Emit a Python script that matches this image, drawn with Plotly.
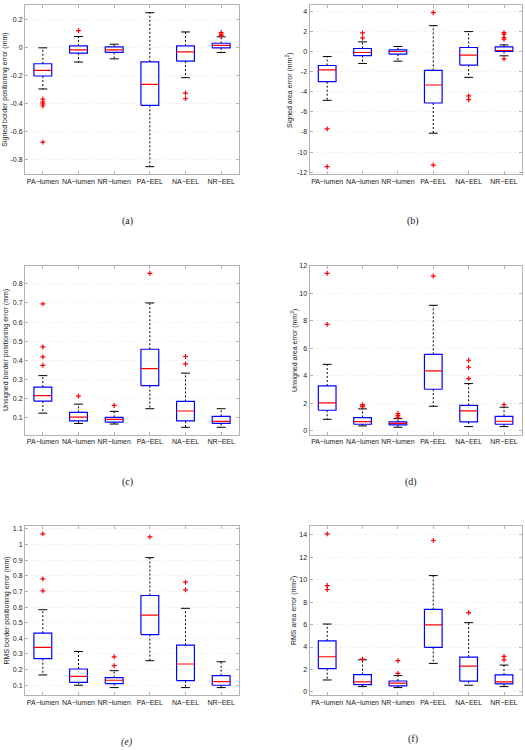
import numpy as np
import plotly.graph_objects as go

categories = ["PA\u2212lumen", "NA\u2212lumen", "NR\u2212lumen", "PA\u2212EEL", "NA\u2212EEL", "NR\u2212EEL"]

# (a) Signed border positioning error (mm)
a_lo = [-0.295, -0.102, -0.079, -0.852, -0.214, -0.033]
a_q1 = [-0.202, -0.038, -0.033, -0.412, -0.095, 0.000]
a_med = [-0.162, -0.014, -0.014, -0.262, -0.029, 0.017]
a_q3 = [-0.114, 0.014, 0.007, -0.100, 0.014, 0.033]
a_hi = [0.000, 0.081, 0.026, 0.252, 0.114, 0.079]
a_out = [[-0.367, -0.388, -0.402, -0.417, -0.676], [0.124], [], [], [-0.324, -0.364], [0.088, 0.098, 0.110]]
a_ticks = [-0.8, -0.6, -0.4, -0.2, 0, 0.2]

# (b) Signed area error (mm^2)
b_lo = [-4.85, -1.19, -0.96, -8.12, -2.57, -0.43]
b_q1 = [-3.00, -0.40, -0.26, -5.12, -1.35, 0.00]
b_med = [-1.82, -0.10, 0.00, -3.33, -0.36, 0.10]
b_q3 = [-1.39, 0.30, 0.17, -1.88, 0.40, 0.46]
b_hi = [-0.50, 0.96, 0.50, 2.57, 1.98, 0.66]
b_out = [[-7.69, -11.45], [1.35, 1.85], [], [3.86, -11.29], [-4.42, -4.79], [1.22, 1.39, 1.72, 1.88, -0.73]]
b_ticks = [-12, -10, -8, -6, -4, -2, 0, 2, 4]

# (c) Unsigned border positioning error (mm)
c_lo = [0.124, 0.070, 0.067, 0.147, 0.050, 0.050]
c_q1 = [0.187, 0.083, 0.077, 0.268, 0.083, 0.070]
c_med = [0.216, 0.103, 0.091, 0.357, 0.135, 0.081]
c_q3 = [0.260, 0.128, 0.102, 0.458, 0.185, 0.107]
c_hi = [0.320, 0.171, 0.133, 0.700, 0.333, 0.147]
c_out = [[0.374, 0.418, 0.470, 0.695], [0.213], [0.164], [0.855], [0.381, 0.420], []]
c_ticks = [0.1, 0.2, 0.3, 0.4, 0.5, 0.6, 0.7, 0.8]

# (d) Unsigned area error (mm^2)
d_lo = [0.82, 0.34, 0.24, 1.77, 0.29, 0.29]
d_q1 = [1.48, 0.46, 0.41, 3.01, 0.63, 0.46]
d_med = [2.01, 0.65, 0.53, 4.34, 1.43, 0.68]
d_q3 = [3.25, 0.95, 0.63, 5.55, 1.84, 1.04]
d_hi = [4.82, 1.58, 0.87, 9.12, 3.42, 1.70]
d_out = [[7.73, 11.45], [1.75, 1.79, 1.89], [0.97, 1.09, 1.24], [11.25], [3.78, 4.61, 5.12], [1.89]]
d_ticks = [0, 2, 4, 6, 8, 10, 12]

# (e) RMS border positioning error (mm)
e_lo = [0.166, 0.100, 0.085, 0.257, 0.085, 0.085]
e_q1 = [0.270, 0.119, 0.111, 0.424, 0.130, 0.100]
e_med = [0.342, 0.157, 0.132, 0.549, 0.236, 0.123]
e_q3 = [0.433, 0.204, 0.149, 0.674, 0.356, 0.161]
e_hi = [0.583, 0.316, 0.193, 0.916, 0.592, 0.250]
e_out = [[0.704, 0.780, 1.068], [], [0.225, 0.282], [1.049], [0.710, 0.759], []]
e_ticks = [0.1, 0.2, 0.3, 0.4, 0.5, 0.6, 0.7, 0.8, 0.9, 1, 1.1]

# (f) RMS area error (mm^2)
f_lo = [1.06, 0.47, 0.38, 2.54, 0.59, 0.47]
f_q1 = [2.07, 0.65, 0.53, 3.96, 0.95, 0.71]
f_med = [3.13, 0.89, 0.77, 5.97, 2.30, 0.89]
f_q3 = [4.55, 1.54, 0.97, 7.35, 3.10, 1.51]
f_hi = [6.05, 2.86, 1.45, 10.37, 6.17, 2.39]
f_out = [[9.13, 9.48, 14.09], [2.92], [1.65, 2.78], [13.50], [7.06], [2.86, 3.16]]
f_ticks = [0, 2, 4, 6, 8, 10, 12, 14]

y_titles = [
    "Signed border positioning error (mm)",
    "Signed area error (mm<sup>2</sup>)",
    "Unsigned border positioning error (mm)",
    "Unsigned area error (mm<sup>2</sup>)",
    "RMS border positioning error (mm)",
    "RMS area error (mm<sup>2</sup>)",
]
captions = ["(a)", "(b)", "(c)", "(d)", "<i>(e)</i>", "(f)"]

panels = [
    (a_lo, a_q1, a_med, a_q3, a_hi, a_out, a_ticks),
    (b_lo, b_q1, b_med, b_q3, b_hi, b_out, b_ticks),
    (c_lo, c_q1, c_med, c_q3, c_hi, c_out, c_ticks),
    (d_lo, d_q1, d_med, d_q3, d_hi, d_out, d_ticks),
    (e_lo, e_q1, e_med, e_q3, e_hi, e_out, e_ticks),
    (f_lo, f_q1, f_med, f_q3, f_hi, f_out, f_ticks),
]

W, H = 525, 750
col_px = [(25, 239), (309.5, 521.7)]
row_px = [(2, 172.3), (264, 434.3), (526, 696)]
title_off = [20, 20.2, 18.3, 14.8, 18.3, 15.2]
caption_px = [(127, 219), (413, 219), (127, 482), (411, 482), (127, 743), (413, 740)]

BW = 0.5
CW = 0.25
TICKFONT = dict(family="Liberation Sans, Arial, sans-serif", size=7, color="#1a1a1a")

fig = go.Figure()
annotations = []
layout_axes = {}

for k, (lo, q1, med, q3, hi, out, ticks) in enumerate(panels):
    idx = k + 1
    xa = "x" if idx == 1 else f"x{idx}"
    ya = "y" if idx == 1 else f"y{idx}"
    pos = list(range(1, len(categories) + 1))
    common = dict(xaxis=xa, yaxis=ya, hoverinfo="skip", showlegend=False)

    wx, wy, cx, cy, bx, by, mx, my = [], [], [], [], [], [], [], []
    for p, l, a, m, b, h in zip(pos, lo, q1, med, q3, hi):
        wx += [p, p, None, p, p, None]
        wy += [b, h, None, a, l, None]
        cx += [p - CW / 2, p + CW / 2, None, p - CW / 2, p + CW / 2, None]
        cy += [h, h, None, l, l, None]
        bx += [p - BW / 2, p + BW / 2, p + BW / 2, p - BW / 2, p - BW / 2, None]
        by += [a, a, b, b, a, None]
        mx += [p - BW / 2, p + BW / 2, None]
        my += [m, m, None]
    fig.add_trace(go.Scatter(x=wx, y=wy, mode="lines",
                             line=dict(color="black", width=1, dash="2px,2px"), **common))
    fig.add_trace(go.Scatter(x=cx, y=cy, mode="lines",
                             line=dict(color="black", width=1), **common))
    fig.add_trace(go.Scatter(x=bx, y=by, mode="lines",
                             line=dict(color="#0000ff", width=1.2), **common))
    fig.add_trace(go.Scatter(x=mx, y=my, mode="lines",
                             line=dict(color="#ff0000", width=1.2), **common))
    ox, oy = [], []
    for p, o in zip(pos, out):
        ox += [p] * len(o)
        oy += list(o)
    fig.add_trace(go.Scatter(x=ox, y=oy, mode="markers",
                             marker=dict(symbol="cross-thin", size=3.5, color="#ff0000",
                                         line=dict(color="#ff0000", width=1.2)), **common))

    allv = list(lo) + list(hi) + [v for o in out for v in o]
    vmin, vmax = min(allv), max(allv)
    pad = 0.05 * (vmax - vmin)

    col = k % 2
    row = k // 2
    x0, x1 = col_px[col]
    y0, y1 = row_px[row]
    xdom = [x0 / W, x1 / W]
    ydom = [1 - y1 / H, 1 - y0 / H]

    xkey = "xaxis" if idx == 1 else f"xaxis{idx}"
    ykey = "yaxis" if idx == 1 else f"yaxis{idx}"
    layout_axes[xkey] = dict(
        domain=xdom, anchor=ya, range=[0.5, len(categories) + 0.5],
        tickmode="array", tickvals=pos, ticktext=categories,
        showgrid=False, zeroline=False, showline=True, mirror="ticks",
        linecolor="#b3b3b3", linewidth=1, ticks="inside", ticklen=3,
        tickcolor="#b3b3b3", tickfont=TICKFONT,
    )
    layout_axes[ykey] = dict(
        domain=ydom, anchor=xa, range=[vmin - pad, vmax + pad],
        tickmode="array", tickvals=ticks, ticktext=[f"{t:g}" for t in ticks],
        showgrid=True, gridcolor="#f0f0f0", griddash="dot", gridwidth=1,
        zeroline=False, showline=True, mirror="ticks",
        linecolor="#b3b3b3", linewidth=1, ticks="inside", ticklen=3,
        tickcolor="#b3b3b3", tickfont=TICKFONT,
    )

    annotations.append(dict(
        text=y_titles[k], xref="paper", yref="paper",
        x=xdom[0], y=(ydom[0] + ydom[1]) / 2, xshift=-title_off[k],
        xanchor="center", yanchor="middle", textangle=-90, showarrow=False,
        font=dict(family="Liberation Sans, Arial, sans-serif", size=7, color="#1a1a1a"),
    ))
    cxp, cyp = caption_px[k]
    annotations.append(dict(
        text=captions[k], xref="paper", yref="paper",
        x=cxp / W, y=1 - cyp / H, xanchor="center", yanchor="middle",
        showarrow=False,
        font=dict(family="Liberation Serif, Times New Roman, serif", size=10, color="#1a1a1a"),
    ))

fig.update_layout(
    width=W, height=H, margin=dict(l=0, r=0, t=0, b=0),
    paper_bgcolor="white", plot_bgcolor="white",
    showlegend=False, annotations=annotations, **layout_axes,
)

fig.write_html("out.html", config={"displayModeBar": False},
               post_script="document.body.style.margin='0';document.body.style.overflow='hidden';")
